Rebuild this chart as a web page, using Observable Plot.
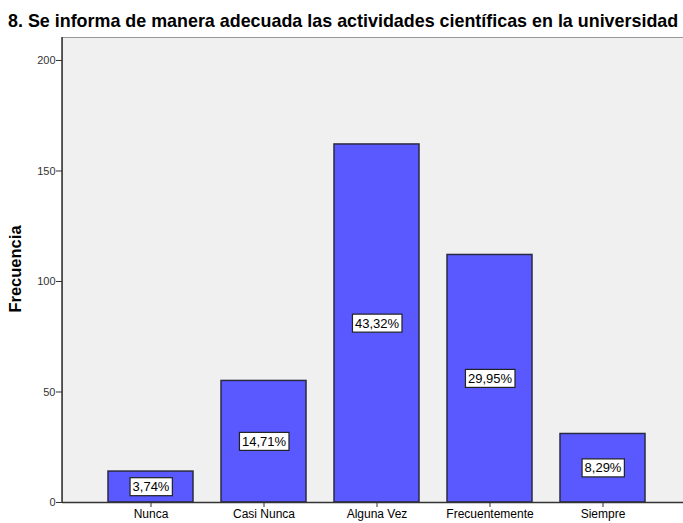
<!DOCTYPE html>
<html><head><meta charset="utf-8">
<script src="https://cdn.jsdelivr.net/npm/d3@7"></script>
<script src="https://cdn.jsdelivr.net/npm/@observablehq/plot@0.6"></script>
<style>
body{margin:0;background:#fff;font-family:"Liberation Sans",Arial,sans-serif;}
#title{height:35px;box-sizing:border-box;padding:11px 0 0 8px;font-weight:bold;font-size:17.9px;line-height:20px;color:#000;white-space:nowrap;overflow:visible;}
</style></head>
<body>
<div id="title">8. Se informa de manera adecuada las actividades científicas en la universidad</div>
<div id="chart"></div>
<script>
const categories = ["Nunca","Casi Nunca","Alguna Vez","Frecuentemente","Siempre"];
const counts = [14,55,162,112,31];
const percents = ["3,74%","14,71%","43,32%","29,95%","8,29%"];
const yTicks = [0,50,100,150,200];

const data = categories.map((c,i)=>({cat:c,n:counts[i],pct:percents[i]}));

const plot = Plot.plot({
  width:683, height:488,
  marginLeft:62, marginRight:0, marginTop:2, marginBottom:21,
  style:{fontFamily:'"Liberation Sans",Arial,sans-serif', fontSize:"11px", background:"#fff", overflow:"visible"},
  x:{domain:categories, range:[62,691], paddingInner:0.2478, paddingOuter:0.407, label:null},
  y:{domain:[0,210.4], label:null},
  marks:[
    Plot.frame({fill:"#f0f0f0", stroke:"#999"}),
    Plot.barY(data,{x:"cat", y:"n", fill:"#5959ff", stroke:"#2a2a40", strokeWidth:1.5}),
    Plot.text(data,{x:"cat", y:d=>d.n/2, text:"pct", fill:"#000", fontSize:13, className:"pctlabel"}),
    Plot.axisY(yTicks,{tickSize:6, tickPadding:1, stroke:"#333", fill:"#333", fontSize:11, label:null}),
    Plot.axisX({tickSize:5, tickPadding:2, stroke:"#333", fill:"#000", fontSize:12, label:null}),
    Plot.ruleY([0],{stroke:"#333", strokeWidth:1.5})
  ]
});
document.getElementById("chart").appendChild(plot);

const svg = d3.select(plot);
// left axis line
svg.append("line").attr("x1",62).attr("x2",62).attr("y1",2).attr("y2",467).attr("stroke","#333").attr("stroke-width",1.5);
// y label
svg.append("text").attr("transform","translate(21,234) rotate(-90)").attr("text-anchor","middle")
  .attr("font-weight","bold").attr("font-size","16.5px").attr("fill","#000")
  .style("font-family",'"Liberation Sans",Arial,sans-serif').text("Frecuencia");

// boxes behind percentage labels
svg.selectAll(".pctlabel text").each(function(){
  const b = this.getBBox();
  const t = this.getAttribute("transform");
  const r = d3.select(this.parentNode).insert("rect", () => this)
    .attr("x", b.x-2.5).attr("y", b.y-1.5).attr("width", b.width+5).attr("height", b.height+3)
    .attr("fill","#fff").attr("stroke","#222").attr("stroke-width",1.2);
  if (t) r.attr("transform", t);
});
</script>
</body></html>
